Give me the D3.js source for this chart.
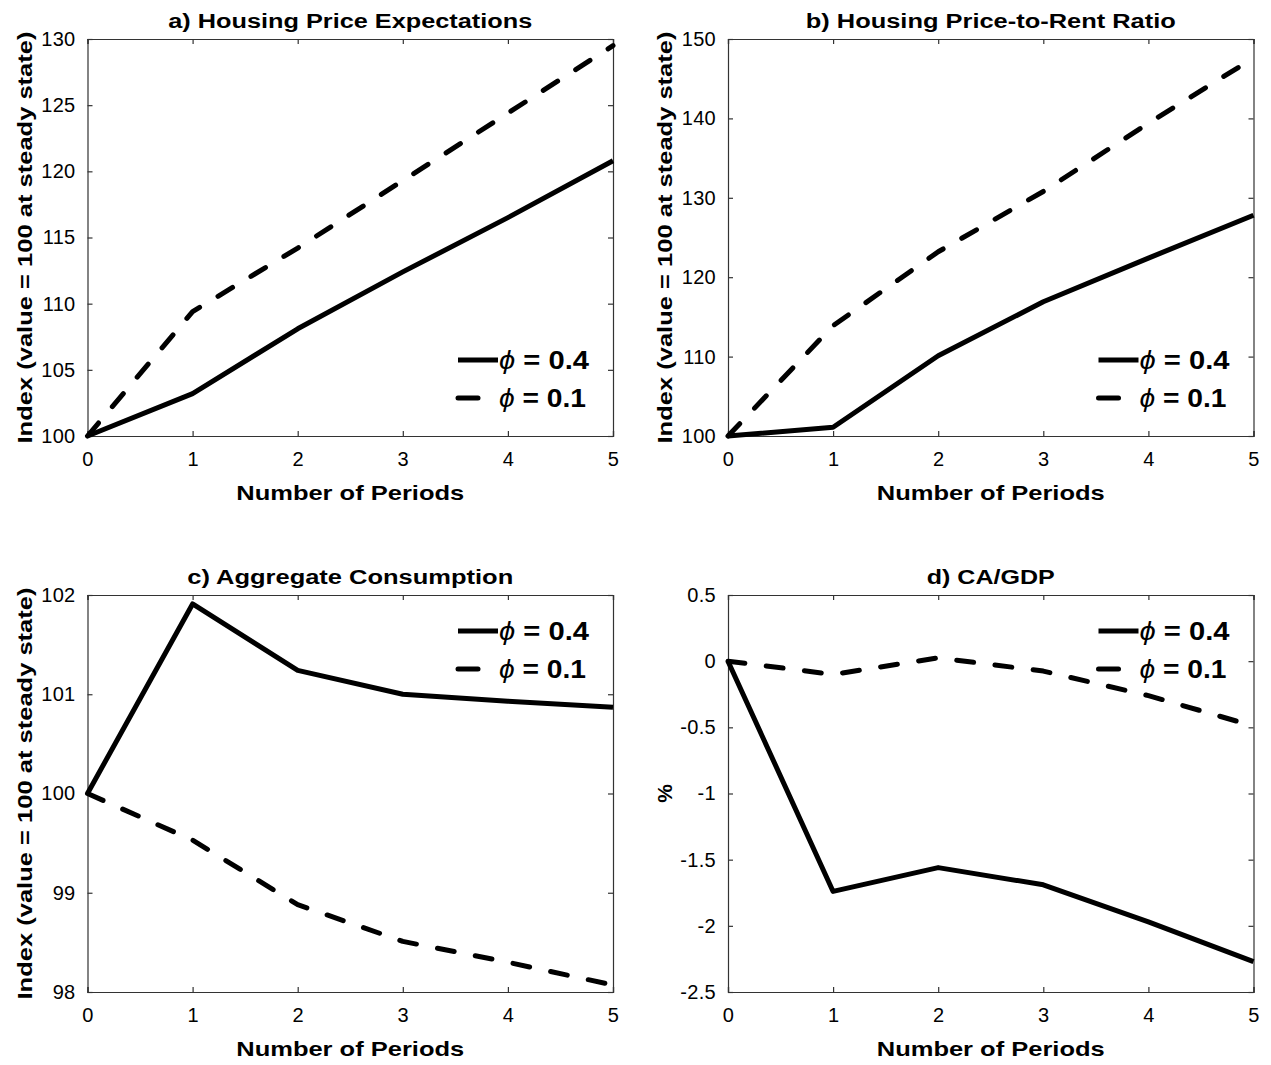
<!DOCTYPE html>
<html>
<head>
<meta charset="utf-8">
<script src="https://cdn.jsdelivr.net/npm/d3@7"></script>
<style>
  body { margin: 0; background: #fff; }
  text { font-family: "Liberation Sans", Arial, sans-serif; fill: #000; }
</style>
</head>
<body>
<svg id="chart" width="1271" height="1065"></svg>
<script>
// Periods on the x axis
const periods = [0, 1, 2, 3, 4, 5];

// a) Housing Price Expectations
const priceExpHigh = [100, 103.2, 108.1, 112.4, 116.5, 120.8];
const priceExpLow  = [100, 109.4, 114.2, 119.3, 124.4, 129.5];
// b) Housing Price-to-Rent Ratio
const ptrHigh = [100, 101.1, 110.1, 116.9, 122.4, 127.8];
const ptrLow  = [100, 113.9, 123.2, 130.8, 139.4, 147.6];
// c) Aggregate Consumption
const consHigh = [100, 101.91, 101.24, 101.0, 100.93, 100.87];
const consLow  = [100, 99.53, 98.88, 98.51, 98.30, 98.07];
// d) CA/GDP
const caHigh = [0, -1.74, -1.56, -1.69, -1.97, -2.27];
const caLow  = [0, -0.10, 0.025, -0.075, -0.26, -0.49];

const seriesNames = ['= 0.4', '= 0.1'];
const xTicks = [0, 1, 2, 3, 4, 5];

const panels = [
  {title: 'a) Housing Price Expectations', titleW: 364, ylabel: 'Index (value = 100 at steady state)', ylabelW: 412,
   series: [priceExpHigh, priceExpLow], domain: [100, 130], ticks: [100, 105, 110, 115, 120, 125, 130],
   x0: 87.5, y0: 39, legend: 'bottom'},
  {title: 'b) Housing Price-to-Rent Ratio', titleW: 370, ylabel: 'Index (value = 100 at steady state)', ylabelW: 412,
   series: [ptrHigh, ptrLow], domain: [100, 150], ticks: [100, 110, 120, 130, 140, 150],
   x0: 728, y0: 39, legend: 'bottom'},
  {title: 'c) Aggregate Consumption', titleW: 326, ylabel: 'Index (value = 100 at steady state)', ylabelW: 412,
   series: [consHigh, consLow], domain: [98, 102], ticks: [98, 99, 100, 101, 102],
   x0: 87.5, y0: 595, legend: 'top'},
  {title: 'd) CA/GDP', titleW: 128, ylabel: '%', ylabelW: null,
   series: [caHigh, caLow], domain: [-2.5, 0.5], ticks: [-2.5, -2, -1.5, -1, -0.5, 0, 0.5],
   x0: 728, y0: 595, legend: 'top'}
];

const pw = 525.5, ph = 397;
const svg = d3.select('#chart');

panels.forEach(p => {
  const g = svg.append('g').attr('transform', 'translate(' + p.x0 + ',' + p.y0 + ')');

  const x = d3.scaleLinear().domain([0, 5]).range([0, pw]);
  const y = d3.scaleLinear().domain(p.domain).range([ph, 0]);

  // box with inward ticks on all sides
  g.append('g').attr('class', 'ax')
    .attr('transform', 'translate(0,' + ph + ')')
    .call(d3.axisBottom(x).tickValues(xTicks).tickSize(-5).tickPadding(16).tickFormat(d3.format('d')));
  g.append('g').attr('class', 'ax')
    .call(d3.axisTop(x).tickValues(xTicks).tickSize(-5).tickFormat(''));
  g.append('g').attr('class', 'ax')
    .call(d3.axisLeft(y).tickValues(p.ticks).tickSize(-5).tickPadding(12).tickFormat(d => String(d)));
  g.append('g').attr('class', 'ax')
    .attr('transform', 'translate(' + pw + ',0)')
    .call(d3.axisRight(y).tickValues(p.ticks).tickSize(-5).tickFormat(''));

  g.selectAll('.ax path, .ax line').attr('stroke', '#333').attr('stroke-width', 1.2);
  g.selectAll('.ax text').style('font-size', '20px').style('letter-spacing', '0.3px').attr('fill', '#000');

  // lines
  const line = d3.line().x((d, i) => x(periods[i])).y(d => y(d));
  p.series.forEach((s, k) => {
    g.append('path')
      .datum(s)
      .attr('d', line)
      .attr('fill', 'none')
      .attr('stroke', '#000')
      .attr('stroke-width', 5)
      .attr('stroke-linejoin', 'round')
      .attr('stroke-linecap', k === 1 ? 'round' : 'butt')
      .attr('stroke-dasharray', k === 1 ? '17,21.5' : null);
  });

  // title
  g.append('text')
    .attr('x', pw / 2 - p.titleW / 2).attr('y', -11)
    .attr('textLength', p.titleW).attr('lengthAdjust', 'spacingAndGlyphs')
    .style('font-size', '19.5px').style('font-weight', 'bold')
    .text(p.title);

  // x label
  g.append('text')
    .attr('x', pw / 2 - 114).attr('y', ph + 64)
    .attr('textLength', 228).attr('lengthAdjust', 'spacingAndGlyphs')
    .style('font-size', '21px').style('font-weight', 'bold')
    .text('Number of Periods');

  // y label
  const yl = g.append('text')
    .attr('transform', 'translate(-56,' + (ph / 2) + ') rotate(-90)')
    .style('font-size', '21px').style('font-weight', 'bold')
    .text(p.ylabel);
  if (p.ylabelW) {
    yl.attr('x', -p.ylabelW / 2).attr('textLength', p.ylabelW).attr('lengthAdjust', 'spacingAndGlyphs');
  } else {
    yl.attr('text-anchor', 'middle');
  }

  // legend
  const ly = p.legend === 'top' ? [36, 74] : [ph - 76, ph - 38];
  seriesNames.forEach((name, k) => {
    g.append('line')
      .attr('x1', pw - 155).attr('x2', k === 0 ? pw - 115 : pw - 135)
      .attr('y1', ly[k]).attr('y2', ly[k])
      .attr('stroke', '#000').attr('stroke-width', 5)
      .attr('stroke-linecap', k === 1 ? 'round' : 'butt');
    const t = g.append('text')
      .attr('x', pw - 114).attr('y', ly[k] + 9)
      .attr('textLength', k === 0 ? 90 : 87).attr('lengthAdjust', 'spacingAndGlyphs')
      .style('font-size', '25px').style('font-weight', 'bold');
    t.append('tspan').style('font-style', 'italic').style('font-weight', 'normal').text('\u03D5');
    t.append('tspan').text(' ' + name);
  });
});
</script>
</body>
</html>
